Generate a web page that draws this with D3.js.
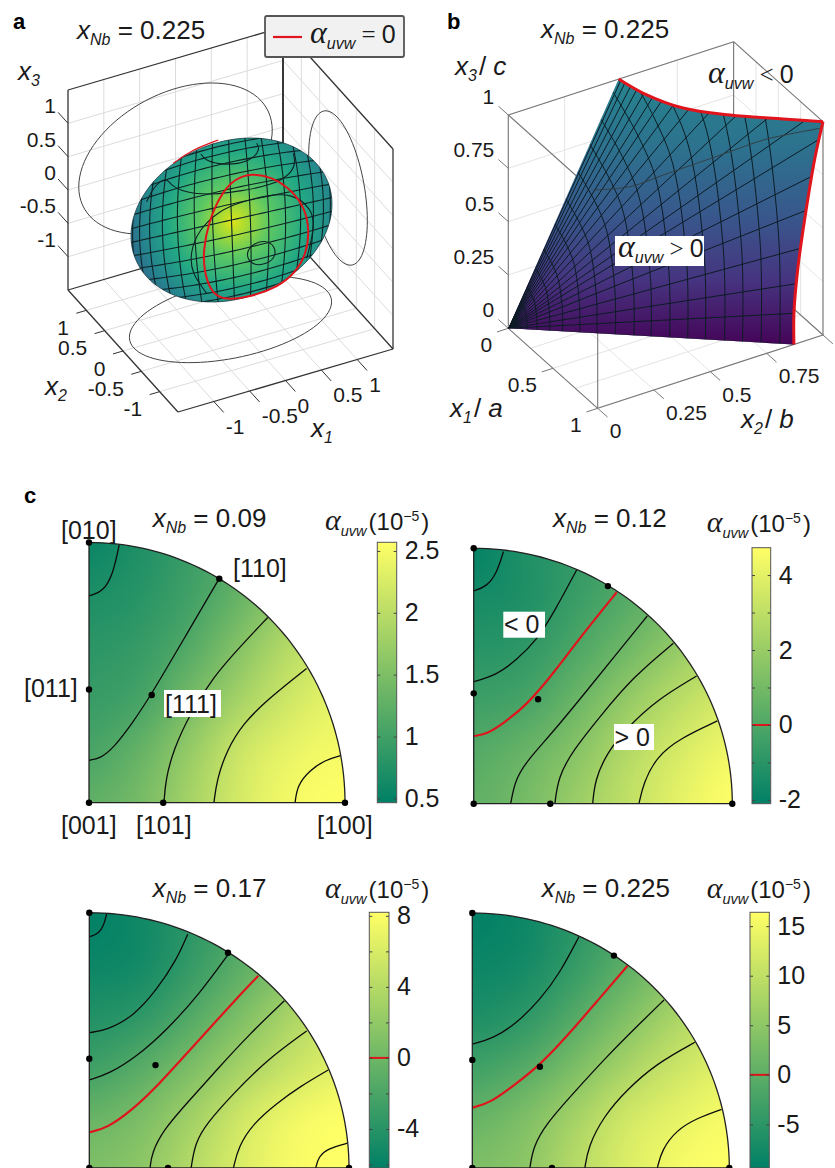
<!DOCTYPE html>
<html>
<head>
<meta charset="utf-8">
<script src="https://cdn.jsdelivr.net/npm/d3@7"></script>
<style>
  body { margin: 0; background: #fff; }
  svg { display: block; }
  text { font-family: "Liberation Sans", Arial, sans-serif; fill: #1a1a1a; }
</style>
</head>
<body>
<div id="graph"></div>
<script>
// ---- panel a: ellipsoid
var semiAxes = [1.35, 0.8, 1.05];
var boxTicksA = [-1, -0.5, 0, 0.5, 1];
var meshA = d3.range(-7, 8);
var meshB = d3.range(-7, 8);
var viridisStopsA = [[0, 0.95], [0.1, 0.88], [0.3, 0.75], [0.6, 0.6], [0.85, 0.45], [1, 0.34]];
// crop units
var redLoopA = [[290,512],[255,480],[237,420],[235,360],[250,280],[285,195],[330,145],[380,130],[440,140],[500,180],[540,235],[553,300],[545,370],[510,430],[460,470],[380,500]];
var redEdgeA = [[145,100],[200,60],[280,30]];
var contoursA = [
  [[228,72],[240,90],[280,103],[340,103],[385,85],[405,58],[395,40]],
  [[65,215],[85,170],[125,140],[135,165],[180,188],[260,195],[350,183],[440,165],[495,135],[512,100],[505,70]],
  [[245,490],[200,430],[195,370],[220,300],[285,240],[350,215],[430,195],[500,190],[560,235],[570,290],[545,385]]
];
var smallLoopA = [[360,370],[385,340],[420,330],[452,348],[450,388],[415,405],[380,405]];

// ---- panel b: surface patch
var boxTicksB = [0, 0.25, 0.5, 0.75, 1];
var x1TicksB = [0, 0.5, 1];
var rightEdgeX2 = [0.871, 0.871, 0.889, 0.925, 0.965, 1];
var rightEdgeX3 = [0, 0.147, 0.357, 0.612, 0.847, 1];
var topEdgeX1 = [0, 0.2, 0.457, 0.661, 0.856, 1];
var topEdgeX2 = [0.49, 0.518, 0.594, 0.722, 0.88, 1];
var radialAngles = [-3.3, 3, 8.8, 15.3, 21.6, 26.6, 31.3, 35, 39, 43, 47, 50.5, 53.5, 56, 58, 60, 61.7, 63.2, 64.6, 65.6];
var arcRadii = [0.03, 0.065, 0.1, 0.145, 0.19, 0.25, 0.31, 0.375, 0.44, 0.5, 0.565, 0.628, 0.69, 0.757, 0.82, 0.885, 0.95];
var arcC = [1, 0.82, 0.5, 0.275, 0];
var arcS = [0, 0.454, 1.08, 1.377, 1.678];
var viridisStopsB = [[0, 0.44], [0.25, 0.37], [0.5, 0.27], [0.75, 0.15], [1, 0.01]];
var contourB = [[490,570],[600,560],[700,525],[800,490],[900,455],[1000,420],[1090,400],[1170,385]];

// ---- panel c: inverse pole figures
var xNbValues = ["0.09", "0.12", "0.17", "0.225"];
var barDomains = [[0.465, 2.57], [-2.1, 4.73], [-6.2, 8.2], [-9.4, 16.4]];
var barTicks = [[0.5, 1, 1.5, 2, 2.5], [-2, -1, 0, 1, 2, 3, 4], [-6, -4, -2, 0, 2, 4, 6, 8], [-5, 0, 5, 10, 15]];
var barLabels = [[0.5, 1, 1.5, 2, 2.5], [-2, 0, 2, 4], [-4, 0, 4, 8], [-5, 0, 5, 10, 15]];
var gridSteps = [0, 0.2, 0.4, 0.6, 0.8, 1];
// value per grid point, rows from y = 0 upward
var heat09 = [
  [1.25, 1.45, 1.85, 2.25, 2.5, 2.6],
  [1.05, 1.3, 1.72, 2.17, 2.4, 2.5],
  [0.92, 1.03, 1.45, 1.85, 2.2, 2.4],
  [0.82, 0.9, 1.16, 1.6, 2.0, 2.2],
  [0.7, 0.79, 1.0, 1.32, 1.75, 2.05],
  [0.55, 0.72, 0.95, 1.2, 1.6, 1.9]
];
var heat12 = [
  [0.5, 1.07, 2.07, 3.1, 4.1, 4.75],
  [0.15, 0.7, 1.55, 2.75, 3.7, 4.4],
  [-0.46, -0.2, 0.8, 1.95, 2.95, 3.7],
  [-1.05, -0.85, 0, 0.95, 2.0, 2.9],
  [-1.5, -1.3, -0.55, 0.2, 1.1, 2.0],
  [-2.05, -1.25, -0.75, -0.1, 0.8, 1.7]
];
var heat17 = [
  [0.9, 1.7, 4.1, 6.4, 7.9, 8.4],
  [-0.4, 0.75, 3.0, 5.7, 7.5, 8.2],
  [-2.8, -1.3, 0.8, 3.25, 5.3, 6.8],
  [-4.4, -3.7, -1.5, 1.0, 3.7, 5.5],
  [-5.6, -5.2, -3.2, -0.9, 1.5, 4.0],
  [-6.2, -5.3, -3.7, -1.6, 0.8, 3.5]
];
var heat225 = [
  [3.3, 4.7, 9.1, 12.9, 15.5, 16.4],
  [0.7, 3.2, 7.3, 11.7, 14, 15.7],
  [-3.2, -1, 2.9, 7.5, 11.2, 13.5],
  [-6.7, -5.2, -1, 3.3, 7.8, 11],
  [-8.3, -7.5, -4.2, -0.1, 4, 8],
  [-9.4, -8.2, -5.3, -2, 2, 6]
];
var heats = [heat09, heat12, heat17, heat225];

var contours09 = [
  { level: 0.7, x: [0, 0.056, 0.095, 0.118], y: [0.795, 0.811, 0.881, 0.992] },
  { level: 1.1, x: [0, 0.043, 0.095, 0.173, 0.238, 0.368, 0.509], y: [0.163, 0.17, 0.209, 0.311, 0.407, 0.625, 0.862] },
  { level: 1.5, x: [0.293, 0.299, 0.329, 0.395, 0.486, 0.59, 0.698], y: [0, 0.087, 0.202, 0.343, 0.484, 0.599, 0.712] },
  { level: 1.9, x: [0.488, 0.499, 0.538, 0.603, 0.694, 0.85], y: [0, 0.087, 0.202, 0.305, 0.394, 0.516] },
  { level: 2.3, x: [0.805, 0.814, 0.863, 0.922, 0.983], y: [0, 0.068, 0.125, 0.164, 0.181] }
];
var contours12 = [
  { level: -1.6, x: [0, 0.05, 0.089, 0.115], y: [0.833, 0.85, 0.902, 0.987] },
  { level: -0.8, x: [0, 0.089, 0.166, 0.244, 0.308, 0.398], y: [0.478, 0.504, 0.563, 0.641, 0.745, 0.915] },
  { level: 0, x: [0, 0.05, 0.115, 0.205, 0.308, 0.424, 0.553], y: [0.265, 0.272, 0.315, 0.386, 0.51, 0.667, 0.828] },
  { level: 0.8, x: [0.143, 0.16, 0.206, 0.308, 0.45, 0.566, 0.671], y: [0, 0.093, 0.168, 0.282, 0.458, 0.604, 0.735] },
  { level: 1.6, x: [0.314, 0.327, 0.385, 0.488, 0.617, 0.772], y: [0, 0.106, 0.21, 0.341, 0.497, 0.628] },
  { level: 2.4, x: [0.46, 0.469, 0.514, 0.591, 0.707, 0.862], y: [0, 0.093, 0.197, 0.295, 0.406, 0.5] },
  { level: 3.2, x: [0.639, 0.656, 0.707, 0.798, 0.942], y: [0, 0.08, 0.184, 0.256, 0.324] }
];
var contours17 = [
  { level: -6, x: [0, 0.035, 0.057, 0.067], y: [0.906, 0.916, 0.952, 0.997] },
  { level: -4, x: [0, 0.067, 0.169, 0.259, 0.336, 0.379], y: [0.53, 0.54, 0.593, 0.697, 0.815, 0.916] },
  { level: -2, x: [0, 0.08, 0.182, 0.298, 0.426, 0.533], y: [0.345, 0.371, 0.436, 0.54, 0.684, 0.834] },
  { level: 0, x: [0, 0.067, 0.169, 0.259, 0.323, 0.426, 0.555, 0.651], y: [0.14, 0.155, 0.23, 0.319, 0.391, 0.505, 0.651, 0.753] },
  { level: 2, x: [0.234, 0.24, 0.285, 0.375, 0.49, 0.619, 0.751], y: [0, 0.057, 0.149, 0.253, 0.384, 0.527, 0.655] },
  { level: 4, x: [0.392, 0.407, 0.452, 0.555, 0.683, 0.837], y: [0, 0.097, 0.175, 0.292, 0.423, 0.537] },
  { level: 6, x: [0.555, 0.574, 0.632, 0.721, 0.811, 0.92], y: [0, 0.084, 0.175, 0.253, 0.319, 0.384] },
  { level: 8, x: [0.872, 0.882, 0.92, 0.994], y: [0, 0.044, 0.077, 0.097] }
];
var contours225 = [
  { level: -5, x: [0, 0.082, 0.172, 0.263, 0.34, 0.415], y: [0.486, 0.508, 0.567, 0.659, 0.763, 0.907] },
  { level: 0, x: [0, 0.069, 0.172, 0.263, 0.367, 0.484, 0.604], y: [0.237, 0.254, 0.332, 0.404, 0.515, 0.652, 0.793] },
  { level: 5, x: [0.224, 0.237, 0.289, 0.393, 0.523, 0.652, 0.746], y: [0, 0.084, 0.175, 0.293, 0.437, 0.567, 0.659] },
  { level: 10, x: [0.438, 0.451, 0.51, 0.6, 0.717, 0.866], y: [0, 0.084, 0.201, 0.306, 0.41, 0.493] },
  { level: 15, x: [0.72, 0.737, 0.795, 0.873, 0.97], y: [0, 0.071, 0.149, 0.195, 0.23] }
];
var contourSets = [contours09, contours12, contours17, contours225];

// [001] [101] [100] [110] [010] [011] [111]
var polesX = [
  [0, 0.29, 1, 0.509, 0, 0, 0.245],
  [0, 0.296, 1, 0.519, 0, 0, 0.249],
  [0, 0.303, 1, 0.534, 0, 0, 0.255],
  [0, 0.31, 1, 0.551, 0, 0, 0.263]
];
var polesY = [
  [0, 0, 0, 0.861, 1, 0.435, 0.414],
  [0, 0, 0, 0.852, 1, 0.432, 0.409],
  [0, 0, 0, 0.843, 1, 0.428, 0.403],
  [0, 0, 0, 0.833, 1, 0.424, 0.397]
];

var width = 835, height = 1168;
var RED = "#e0141c";
var svg = d3.select("#graph").append("svg")
    .attr("width", width)
    .attr("height", height)
    .attr("viewBox", "0 0 " + width + " " + height);
var defs = svg.append("defs");
var smooth = d3.line().curve(d3.curveCatmullRom.alpha(0.5));

// text with italic x + subscript, greek alpha etc
function richText(x, y, parts, size) {
  var t = svg.append("text").attr("x", x).attr("y", y).style("font-size", size + "px");
  var shift = 0;
  parts.forEach(function(p) {
    var s = t.append("tspan").text(p.t);
    var want = p.dy || 0;
    if (want != shift) s.attr("dy", want - shift);
    shift = want;
    if (p.i) s.style("font-style", "italic");
    if (p.serif) s.style("font-family", "'Liberation Serif', serif");
    if (p.size) s.style("font-size", p.size + "px");
    if (p.gap) s.attr("dx", p.gap);
  });
  return t;
}
function xLabel(idx, rest) {
  var parts = [{ t: "x", i: 1 }, { t: idx, i: 1, size: 16, dy: 6 }];
  return parts.concat(rest);
}
function alphaParts(big) {
  return [{ t: "\u03b1", i: 1, serif: 1, size: big }, { t: "uvw", i: 1, size: big > 30 ? 16 : 14.5, dy: 6 }];
}
function panelLetter(s, x, y) {
  svg.append("text").attr("x", x).attr("y", y).text(s)
    .style("font-size", "22px").style("font-weight", "bold").style("fill", "#000");
}

// parallel projection built from one scale per data axis
function makeProjection(origin, scales) {
  return function(p) {
    var a = scales[0](p[0]), b = scales[1](p[1]), c = scales[2](p[2]);
    return [origin[0] + a[0] + b[0] + c[0], origin[1] + a[1] + b[1] + c[1]];
  };
}
function segments(g, proj, list, color, w) {
  g.selectAll(null).data(list).enter().append("path")
    .attr("d", function(d) { return d3.line()(d.map(proj)); })
    .attr("fill", "none").attr("stroke", color).attr("stroke-width", w);
}

// ---------------- panel a ----------------
(function() {
  var dom = [-1.5, 1.5];
  var proj = makeProjection([178, 412], [
    d3.scaleLinear(dom, [[0, 0], [215, -63]]),
    d3.scaleLinear(dom, [[0, 0], [-110, -122]]),
    d3.scaleLinear(dom, [[0, 0], [0, -200]])
  ]);
  var g = svg.append("g");
  var grid = [];
  boxTicksA.forEach(function(t) {
    grid.push([[t, -1.5, -1.5], [t, 1.5, -1.5]], [[-1.5, t, -1.5], [1.5, t, -1.5]]);
    grid.push([[t, 1.5, -1.5], [t, 1.5, 1.5]], [[-1.5, 1.5, t], [1.5, 1.5, t]]);
    grid.push([[1.5, t, -1.5], [1.5, t, 1.5]], [[1.5, -1.5, t], [1.5, 1.5, t]]);
  });
  segments(g, proj, grid, "#dcdcdc", 1);
  var L = -1.5, H = 1.5;
  segments(g, proj, [
    [[L, L, L], [H, L, L]], [[L, L, L], [L, H, L]],
    [[H, L, L], [H, H, L]], [[L, H, L], [H, H, L]],
    [[L, H, L], [L, H, H]], [[H, L, L], [H, L, H]],
    [[L, H, H], [H, H, H]], [[H, L, H], [H, H, H]]
  ], "#333", 1.3);
  segments(g, proj, [[[H, H, L], [H, H, H]]], "#222", 1.8);

  // tick marks
  var ticks = [];
  boxTicksA.forEach(function(t) {
    ticks.push([[t, L, L], [t, L - 0.27, L]]);
    ticks.push([[L, t, L], [L - 0.14, t, L]]);
    ticks.push([[L, H, t], [L, H + 0.27, t]]);
  });
  segments(g, proj, ticks, "#333", 1);

  // shadow ellipses on the walls
  var circle = d3.range(0, 361, 4).map(function(d) { return d * Math.PI / 180; });
  var a = semiAxes[0], b = semiAxes[1], c = semiAxes[2];
  segments(g, proj, [
    circle.map(function(t) { return [a * Math.cos(t), b * Math.sin(t), L]; }),
    circle.map(function(t) { return [a * Math.cos(t), H, c * Math.sin(t)]; }),
    circle.map(function(t) { return [H, b * Math.cos(t), c * Math.sin(t)]; })
  ], "#444", 1);

  // outline of the body, mesh has its own slightly rotated frame
  var centre = [231.5, 220];
  function frame(e1, e2) {
    return function(u, v) {
      return [centre[0] + u * e1[0] + v * e2[0], centre[1] + u * e1[1] + v * e2[1]];
    };
  }
  var rimFrame = frame([100.5, -16], [0, 80.4]);
  var meshFrame = frame([103, -23], [3, 83]);
  var hull = circle.map(function(t) { return rimFrame(Math.cos(t), Math.sin(t)); });
  var hullPath = "M" + hull.join("L") + "Z";
  defs.append("clipPath").attr("id", "bodyClip").append("path").attr("d", hullPath);

  var grad = defs.append("radialGradient").attr("id", "ellipsoidFill")
    .attr("gradientUnits", "userSpaceOnUse")
    .attr("cx", 240).attr("cy", 218).attr("r", 115).attr("fx", 232).attr("fy", 222);
  viridisStopsA.forEach(function(s) {
    grad.append("stop").attr("offset", s[0]).attr("stop-color", d3.interpolateViridis(s[1]));
  });
  g.append("path").attr("d", hullPath).attr("fill", "url(#ellipsoidFill)")
    .attr("stroke", "#1f3f46").attr("stroke-width", 0.8);

  // mesh: both families bulge away from the middle and crowd toward the rim
  var along = d3.range(-1.1, 1.11, 0.05);
  var mesh = g.append("g").attr("clip-path", "url(#bodyClip)");
  var meshLine = d3.line();
  function meshPaths(list, step, maker) {
    mesh.selectAll(null).data(list).enter().append("path")
      .attr("d", function(k) {
        var p = Math.sin(k * step * Math.PI / 180);
        return meshLine(along.map(function(s) { return maker(p, s); }));
      })
      .attr("fill", "none").attr("stroke", "#0d2426").attr("stroke-width", 1.1);
  }
  meshPaths(meshA, 10.5, function(p, s) { return meshFrame(p * (1 - 0.15 * s * s), s); });
  meshPaths(meshB, 11, function(p, s) { return meshFrame(s, p * (1 - 0.15 * s * s)); });

  // curves
  var cx = d3.scaleLinear([0, 645], [125, 340]), cy = d3.scaleLinear([0, 540], [130, 310]);
  function toPx(d) { return d.map(function(p) { return [cx(p[0]), cy(p[1])]; }); }
  var open = d3.line().curve(d3.curveBasis), closed = d3.line().curve(d3.curveBasisClosed);
  g.selectAll(null).data(contoursA).enter().append("path")
    .attr("d", function(d) { return open(toPx(d)); })
    .attr("fill", "none").attr("stroke", "#0d2426").attr("stroke-width", 1.1);
  g.append("path").attr("d", closed(toPx(smallLoopA))).attr("fill", "none").attr("stroke", "#0d2426").attr("stroke-width", 1.1);
  g.append("path").attr("d", closed(toPx(redLoopA))).attr("fill", "none").attr("stroke", RED).attr("stroke-width", 2);
  g.append("path").attr("d", open(toPx(redEdgeA))).attr("fill", "none").attr("stroke", RED).attr("stroke-width", 1.2);

  // axis numbers
  boxTicksA.forEach(function(t) {
    var s = String(t);
    var p3 = proj([L, H, t]);
    svg.append("text").attr("x", p3[0] - 12).attr("y", p3[1] - 10).attr("text-anchor", "end").style("font-size", "21px").text(s);
    var p2 = proj([L, t, L]);
    svg.append("text").attr("x", p2[0] - 17.5).attr("y", p2[1] + 24.5).attr("text-anchor", "end").style("font-size", "21px").text(s);
    var p1 = proj([t, L, L]);
    svg.append("text").attr("x", p1[0] + 12).attr("y", p1[1] + 32).style("font-size", "21px").text(s);
  });
  richText(18, 80, xLabel("3", []), 26);
  richText(45, 395, xLabel("2", []), 26);
  richText(311, 437, xLabel("1", []), 26);
  richText(77, 39, xLabel("Nb", [{ t: " = 0.225", dy: 0 }]), 26);

  // legend
  svg.append("rect").attr("x", 265).attr("y", 16).attr("width", 139).attr("height", 41).attr("rx", 2)
    .attr("fill", "#f1f1f1").attr("stroke", "#555").attr("stroke-width", 1.8);
  svg.append("line").attr("x1", 273).attr("x2", 302).attr("y1", 37).attr("y2", 37).attr("stroke", RED).attr("stroke-width", 2.2);
  richText(310, 43, alphaParts(32).concat([{ t: " = ", serif: 1, dy: 0 }, { t: "0" }]), 25);
})();

// ---------------- panel b ----------------
(function() {
  var dom = [0, 1];
  var O = [508.3, 328.3];
  var proj = makeProjection(O, [
    d3.scaleLinear(dom, [[0, 0], [89.4, 80]]),
    d3.scaleLinear(dom, [[0, 0], [225.3, -73.3]]),
    d3.scaleLinear(dom, [[0, 0], [0, -213.3]])
  ]);
  var g = svg.append("g");
  var grid = [];
  boxTicksB.forEach(function(t) {
    grid.push([[t, 0, 0], [t, 1, 0]], [[0, t, 0], [1, t, 0]]);
    grid.push([[0, t, 0], [0, t, 1]], [[0, 0, t], [0, 1, t]]);
    grid.push([[t, 1, 0], [t, 1, 1]], [[0, 1, t], [1, 1, t]]);
  });
  segments(g, proj, grid, "#e4e4e4", 1);
  segments(g, proj, [
    [[0, 0, 0], [1, 0, 0]], [[1, 0, 0], [1, 1, 0]], [[1, 1, 0], [0, 1, 0]], [[0, 1, 0], [0, 0, 0]],
    [[0, 0, 0], [0, 0, 1]], [[1, 0, 0], [1, 0, 1]], [[0, 1, 0], [0, 1, 1]], [[1, 1, 0], [1, 1, 1]],
    [[0, 0, 1], [0, 1, 1]], [[0, 1, 1], [1, 1, 1]], [[0, 0, 1], [1, 0, 1]]
  ], "#777", 1.1);
  var ticks = [];
  boxTicksB.forEach(function(t) {
    ticks.push([[0, 0, t], [-0.11, 0, t]]);
    ticks.push([[1, t, 0], [1.11, t, 0]]);
  });
  x1TicksB.forEach(function(t) { ticks.push([[t, 0, 0], [t, -0.05, 0]]); });
  segments(g, proj, ticks, "#777", 1);

  // outer edge of the patch
  var rightEdge = rightEdgeX2.map(function(b, i) { return proj([1, b, rightEdgeX3[i]]); });
  var topEdge = topEdgeX1.map(function(a, i) { return proj([a, topEdgeX2[i], 1]); });
  var edgeLine = d3.line().curve(d3.curveCatmullRom.alpha(0.5));
  var outline = "M" + O.join(",") + "L" + edgeLine(rightEdge).slice(1) + "L" + edgeLine(topEdge.slice().reverse()).slice(1) + "Z";

  var grad = defs.append("linearGradient").attr("id", "patchFill")
    .attr("gradientUnits", "userSpaceOnUse").attr("x1", 0).attr("x2", 0).attr("y1", 85).attr("y2", 345);
  viridisStopsB.forEach(function(s) {
    grad.append("stop").attr("offset", s[0]).attr("stop-color", d3.interpolateViridis(s[1]));
  });
  defs.append("clipPath").attr("id", "patchClip").append("path").attr("d", outline);
  g.append("path").attr("d", outline).attr("fill", "url(#patchFill)");

  var E1 = proj([1, rightEdgeX2[0], 0]), E2 = topEdge[0];
  var mesh = g.append("g").attr("clip-path", "url(#patchClip)");
  mesh.selectAll(null).data(arcRadii).enter().append("path")
    .attr("d", function(r) {
      return smooth(arcC.map(function(c, i) {
        return [O[0] + r * (c * (E1[0] - O[0]) + arcS[i] * (E2[0] - O[0])),
                O[1] + r * (c * (E1[1] - O[1]) + arcS[i] * (E2[1] - O[1]))];
      }));
    })
    .attr("fill", "none").attr("stroke", "#0c1c24").attr("stroke-width", 1);
  mesh.selectAll(null).data(radialAngles).enter().append("line")
    .attr("x1", O[0]).attr("y1", O[1])
    .attr("x2", function(d) { return O[0] + 500 * Math.cos(d * Math.PI / 180); })
    .attr("y2", function(d) { return O[1] - 500 * Math.sin(d * Math.PI / 180); })
    .attr("stroke", "#0c1c24").attr("stroke-width", 1);

  var cx = d3.scaleLinear([0, 1215], [430, 835]), cy = d3.scaleLinear([0, 1350], [0, 450]);
  g.append("path").attr("d", smooth(contourB.map(function(p) { return [cx(p[0]), cy(p[1])]; })))
    .attr("fill", "none").attr("stroke", "#333f45").attr("stroke-width", 1);

  g.append("path").attr("d", edgeLine(rightEdge)).attr("fill", "none").attr("stroke", RED).attr("stroke-width", 3);
  g.append("path").attr("d", edgeLine(topEdge)).attr("fill", "none").attr("stroke", RED).attr("stroke-width", 3);

  // axis numbers
  boxTicksB.forEach(function(t) {
    var p3 = proj([0, 0, t]);
    svg.append("text").attr("x", p3[0] - 14).attr("y", p3[1] - 11).attr("text-anchor", "end").style("font-size", "21px").text(t);
    if (t < 1) {
      var p2 = proj([1, t, 0]);
      svg.append("text").attr("x", p2[0] + 12).attr("y", p2[1] + 30).style("font-size", "21px").text(t);
    }
  });
  x1TicksB.forEach(function(t) {
    var p1 = proj([t, 0, 0]);
    svg.append("text").attr("x", p1[0] - 16).attr("y", p1[1] + 24).attr("text-anchor", "end").style("font-size", "21px").text(t);
  });
  richText(455, 75, xLabel("3", [{ t: "/ ", dy: 0, gap: 2 }, { t: "c", i: 1 }]), 26);
  richText(450, 417, xLabel("1", [{ t: "/ ", dy: 0, gap: 2 }, { t: "a", i: 1 }]), 26);
  richText(741, 428, xLabel("2", [{ t: "/ ", dy: 0, gap: 2 }, { t: "b", i: 1 }]), 26);
  richText(541, 38, xLabel("Nb", [{ t: " = 0.225", dy: 0 }]), 26);
  richText(708, 83, alphaParts(32).concat([{ t: " < ", serif: 1, dy: 0 }, { t: "0" }]), 25);
  svg.append("rect").attr("x", 615).attr("y", 236).attr("width", 89).attr("height", 30).attr("fill", "#fff");
  richText(618, 257, alphaParts(32).concat([{ t: " > ", serif: 1, dy: 0 }, { t: "0" }]), 25);
})();

// ---------------- panel c ----------------
var frames = [
  { x0: 89, x1: 345, y0: 802.7, y1: 542.5, bar: [377.3, 396.7], barY: [802.7, 542.3], titleX: 152.7, titleY: 527, alphaX: 325, alphaY: 530 },
  { x0: 473.7, x1: 732.3, y0: 803.7, y1: 548.3, bar: [752, 770.7], barY: [803.7, 547.7], titleX: 553, titleY: 527, alphaX: 706.7, alphaY: 532 },
  { x0: 89.3, x1: 349, y0: 1168, y1: 912.7, bar: [369.3, 389], barY: [1168, 912.3], titleX: 152.7, titleY: 897, alphaX: 325, alphaY: 898 },
  { x0: 472.3, x1: 729.3, y0: 1168, y1: 913, bar: [750, 769.3], barY: [1168, 912.3], titleX: 541.7, titleY: 897, alphaX: 706.7, alphaY: 898 }
];

frames.forEach(function(f, i) {
  var x = d3.scaleLinear([0, 1], [f.x0, f.x1]);
  var y = d3.scaleLinear([0, 1], [f.y0, f.y1]);
  var color = d3.scaleLinear().domain(barDomains[i]).range(["rgb(0,128,102)", "rgb(255,255,102)"]).clamp(true);
  var g = svg.append("g");

  // quarter disc outline
  var rim = d3.range(0, 90.5, 1.5).map(function(d) { return [Math.cos(d * Math.PI / 180), Math.sin(d * Math.PI / 180)]; });
  var outlinePts = [[0, 0]].concat(rim);
  var outline = d3.line().x(function(d) { return x(d[0]); }).y(function(d) { return y(d[1]); })(outlinePts) + "Z";
  defs.append("clipPath").attr("id", "disc" + i).append("path").attr("d", outline);

  // value grid, drawn small and stretched so the browser smooths it
  var n = gridSteps.length;
  var small = document.createElement("canvas");
  small.width = n; small.height = n;
  var sctx = small.getContext("2d");
  heats[i].forEach(function(row, r) {
    row.forEach(function(v, c) {
      sctx.fillStyle = color(v);
      sctx.fillRect(c, n - 1 - r, 1, 1);
    });
  });
  var big = document.createElement("canvas");
  big.width = 360; big.height = 360;
  var bctx = big.getContext("2d");
  bctx.imageSmoothingEnabled = true;
  bctx.imageSmoothingQuality = "high";
  bctx.drawImage(small, 0, 0, 360, 360);
  g.append("image").attr("href", big.toDataURL())
    .attr("x", x(-0.1)).attr("y", y(1.1))
    .attr("width", x(1.1) - x(-0.1)).attr("height", y(-0.1) - y(1.1))
    .attr("preserveAspectRatio", "none")
    .attr("clip-path", "url(#disc" + i + ")");

  // contour lines
  var line = d3.line().curve(d3.curveBasis);
  g.selectAll(null).data(contourSets[i]).enter().append("path")
    .attr("d", function(d) { return line(d.x.map(function(v, k) { return [x(v), y(d.y[k])]; })); })
    .attr("fill", "none")
    .attr("stroke", function(d) { return d.level == 0 ? RED : "#0c0c0c"; })
    .attr("stroke-width", function(d) { return d.level == 0 ? 2.2 : 1.3; });

  g.append("path").attr("d", outline).attr("fill", "none").attr("stroke", "#222").attr("stroke-width", 1.3);

  g.selectAll(null).data(polesX[i]).enter().append("circle")
    .attr("cx", function(d) { return x(d); })
    .attr("cy", function(d, k) { return y(polesY[i][k]); })
    .attr("r", 3.2).attr("fill", "#000");

  // colour bar
  var by = d3.scaleLinear(barDomains[i], f.barY);
  var gid = "bar" + i;
  var lg = defs.append("linearGradient").attr("id", gid).attr("x1", 0).attr("x2", 0).attr("y1", 1).attr("y2", 0);
  lg.append("stop").attr("offset", 0).attr("stop-color", color(barDomains[i][0]));
  lg.append("stop").attr("offset", 1).attr("stop-color", color(barDomains[i][1]));
  g.append("rect").attr("x", f.bar[0]).attr("width", f.bar[1] - f.bar[0])
    .attr("y", f.barY[1]).attr("height", f.barY[0] - f.barY[1])
    .attr("fill", "url(#" + gid + ")").attr("stroke", "#555").attr("stroke-width", 1);
  if (barDomains[i][0] < 0) {
    g.append("line").attr("x1", f.bar[0]).attr("x2", f.bar[1]).attr("y1", by(0)).attr("y2", by(0))
      .attr("stroke", RED).attr("stroke-width", 2);
  }
  var right = d3.axisRight(by).tickValues(barTicks[i]).tickSize(-3).tickPadding(8)
    .tickFormat(function(d) { return barLabels[i].indexOf(d) >= 0 ? d : ""; });
  var left = d3.axisLeft(by).tickValues(barTicks[i]).tickSize(-3).tickFormat("");
  var ra = g.append("g").attr("transform", "translate(" + f.bar[1] + ",0)").call(right);
  var la = g.append("g").attr("transform", "translate(" + f.bar[0] + ",0)").call(left);
  ra.selectAll(".domain").remove();
  la.selectAll(".domain").remove();
  ra.selectAll("line").attr("stroke", "#444");
  la.selectAll("line").attr("stroke", "#444");
  ra.selectAll("text").style("font-size", "25px").style("font-family", "'Liberation Sans', Arial, sans-serif").attr("fill", "#1a1a1a");

  richText(f.titleX, f.titleY, xLabel("Nb", [{ t: " = " + xNbValues[i], dy: 0 }]), 26);
  richText(f.alphaX, f.alphaY, alphaParts(30).concat([
    { t: "(10", dy: 0, gap: 2 }, { t: "\u22125", size: 14, dy: -9 }, { t: ")", dy: 0, gap: 2 }
  ]), 24);
});

function boxedLabel(s, rx, ry, rw, rh, tx, ty) {
  svg.append("rect").attr("x", rx).attr("y", ry).attr("width", rw).attr("height", rh).attr("fill", "#fff");
  svg.append("text").attr("x", tx).attr("y", ty).style("font-size", "25px").text(s);
}
[["[010]", 61, 539], ["[110]", 233, 577], ["[011]", 24, 697], ["[001]", 61, 834], ["[101]", 136, 834], ["[100]", 317, 834]]
  .forEach(function(d) { svg.append("text").attr("x", d[1]).attr("y", d[2]).style("font-size", "25px").text(d[0]); });
boxedLabel("[111]", 164, 690, 57, 27, 165, 713);
boxedLabel("< 0", 503.3, 611.7, 41.7, 26, 504, 633);
boxedLabel("> 0", 614, 724, 40, 26, 614.5, 746);

panelLetter("a", 13, 29);
panelLetter("b", 447, 29);
panelLetter("c", 24, 503);
</script>
</body>
</html>
